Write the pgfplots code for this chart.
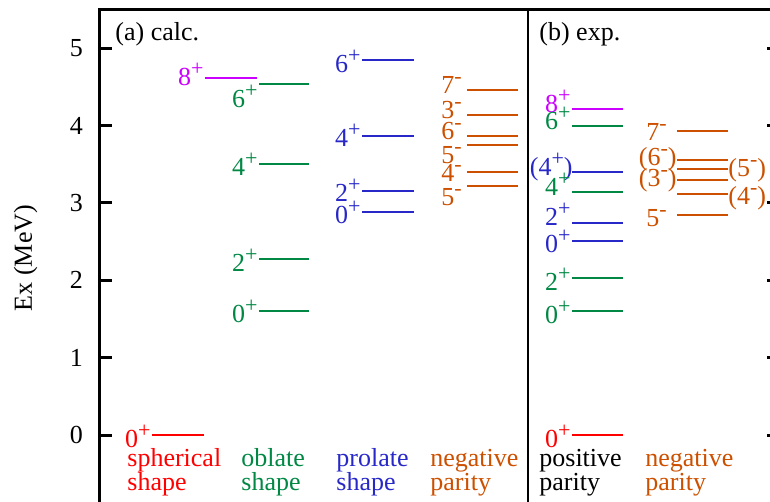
\documentclass[border=0pt]{standalone}
\usepackage{fontspec}
\setmainfont{Liberation Serif}
\usepackage{pgfplots}
\pgfplotsset{compat=1.18}

\definecolor{cred}{RGB}{255,0,0}
\definecolor{cmag}{RGB}{204,0,255}
\definecolor{cgreen}{RGB}{0,136,68}
\definecolor{cblue}{RGB}{40,40,200}
\definecolor{corange}{RGB}{204,80,0}

% one level: colour, x from, x to, energy (MeV)
\newcommand{\lvl}[4]{\addplot[#1, line width=1pt, forget plot] coordinates {(#2,#4) (#3,#4)};}
% its label: colour, anchor, x, energy, drop of the baseline (px), text
\newcommand{\lab}[6]{\node[#1, anchor=#2, inner sep=0pt, yshift=-#5*0.5pt] at (axis cs:#3,#4) {#6};}
\newcommand{\spin}[1]{\raisebox{5pt}{\fontsize{11}{11}\selectfont #1}}
\newcommand{\p}[1]{#1\spin{+}}
\newcommand{\m}[1]{#1\spin{-}}

\begin{document}
\fontsize{13}{12}\selectfont
\begin{tikzpicture}
\begin{axis}[
    scale only axis, x=0.5pt, y=38.675pt,
    xmin=100, xmax=779, ymin=-1, ymax=5.5,
    axis line style={line width=1.5pt},
    xtick=\empty,
    ytick={0,1,2,3,4,5},
    major tick length=6pt,
    every tick/.style={black, line width=1.5pt},
    yticklabel style={xshift=-4pt},
    /pgf/number format/assume math mode=true,
    clip=false,
  ]
  \coordinate (bl) at (axis cs:0,-0.866);
  \coordinate (tr) at (axis cs:770,5.624);

  % panel divider
  \addplot[black, line width=1pt, forget plot] coordinates {(528,-1) (528,5.5)};

  % (a) calc.: spherical
  \lvl{cred}{152}{204}{0}
  \lab{cred}{base east}{151}{0}{12}{\p0}
  \lvl{cmag}{205}{257}{4.615}
  \lab{cmag}{base east}{204}{4.615}{7}{\p8}
  % oblate
  \lvl{cgreen}{259}{309}{4.538}
  \lvl{cgreen}{259}{309}{3.504}
  \lvl{cgreen}{259}{309}{2.275}
  \lvl{cgreen}{259}{309}{1.603}
  \lab{cgreen}{base east}{258}{4.538}{24}{\p6}
  \lab{cgreen}{base east}{258}{3.504}{12}{\p4}
  \lab{cgreen}{base east}{258}{2.275}{12}{\p2}
  \lab{cgreen}{base east}{258}{1.603}{11}{\p0}
  % prolate
  \lvl{cblue}{362}{414}{4.848}
  \lvl{cblue}{362}{414}{3.870}
  \lvl{cblue}{362}{414}{3.155}
  \lvl{cblue}{362}{414}{2.879}
  \lab{cblue}{base east}{361}{4.848}{12}{\p6}
  \lab{cblue}{base east}{361}{3.870}{11}{\p4}
  \lab{cblue}{base east}{361}{3.155}{11}{\p2}
  \lab{cblue}{base east}{361}{2.879}{11}{\p0}
  % negative parity
  \lvl{corange}{467}{518}{4.460}
  \lvl{corange}{467}{518}{4.137}
  \lvl{corange}{467}{518}{3.866}
  \lvl{corange}{467}{518}{3.749}
  \lvl{corange}{467}{518}{3.404}
  \lvl{corange}{467}{518}{3.219}
  \lab{corange}{base east}{462}{4.460}{3}{\m7}
  \lab{corange}{base east}{462}{4.137}{3}{\m3}
  \lab{corange}{base east}{462}{3.866}{4}{\m6}
  \lab{corange}{base east}{462}{3.749}{18}{\m5}
  \lab{corange}{base east}{462}{3.404}{10}{\m4}
  \lab{corange}{base east}{462}{3.219}{19}{\m5}

  % (b) exp.: positive parity
  \lvl{cmag}{572}{623}{4.215}
  \lvl{cgreen}{572}{623}{3.999}
  \lvl{cblue}{572}{623}{3.404}
  \lvl{cgreen}{572}{623}{3.145}
  \lvl{cblue}{572}{623}{2.745}
  \lvl{cblue}{572}{623}{2.512}
  \lvl{cgreen}{572}{623}{2.026}
  \lvl{cgreen}{572}{623}{1.603}
  \lvl{cred}{572}{623}{0}
  \lab{cmag}{base east}{571}{4.215}{4}{\p8}
  \lab{cgreen}{base east}{571}{3.999}{4}{\p6}
  \lab{cblue}{base east}{573}{3.404}{4}{(\p4)}
  \lab{cgreen}{base east}{571}{3.145}{4}{\p4}
  \lab{cblue}{base east}{571}{2.745}{3}{\p2}
  \lab{cblue}{base east}{571}{2.512}{12}{\p0}
  \lab{cgreen}{base east}{571}{2.026}{12}{\p2}
  \lab{cgreen}{base east}{571}{1.603}{12}{\p0}
  \lab{cred}{base east}{571}{0}{12}{\p0}
  % negative parity
  \lvl{corange}{677}{728}{3.934}
  \lvl{corange}{677}{728}{3.555}
  \lvl{corange}{677}{728}{3.439}
  \lvl{corange}{677}{728}{3.297}
  \lvl{corange}{677}{728}{3.116}
  \lvl{corange}{677}{728}{2.844}
  \lab{corange}{base east}{667}{3.934}{10}{\m7}
  \lab{corange}{base east}{677}{3.555}{5}{(\m6)}
  \lab{corange}{base west}{728}{3.439}{8}{(\m5)}
  \lab{corange}{base east}{677}{3.297}{7}{(\m3)}
  \lab{corange}{base west}{728}{3.116}{11}{(\m4)}
  \lab{corange}{base east}{667}{2.844}{11}{\m5}

  % panel titles
  \node[anchor=base west, inner sep=0pt] at (axis cs:115,5.094) {(a) calc.};
  \node[anchor=base west, inner sep=0pt] at (axis cs:539,5.094) {(b) exp.};

  % column names
  \node[cred, anchor=base west, inner sep=0pt] at (axis cs:127,-0.401) {spherical};
  \node[cred, anchor=base west, inner sep=0pt] at (axis cs:127,-0.711) {shape};
  \node[cgreen, anchor=base west, inner sep=0pt] at (axis cs:241,-0.401) {oblate};
  \node[cgreen, anchor=base west, inner sep=0pt] at (axis cs:241,-0.711) {shape};
  \node[cblue, anchor=base west, inner sep=0pt] at (axis cs:336,-0.401) {prolate};
  \node[cblue, anchor=base west, inner sep=0pt] at (axis cs:336,-0.711) {shape};
  \node[corange, anchor=base west, inner sep=0pt] at (axis cs:430,-0.401) {negative};
  \node[corange, anchor=base west, inner sep=0pt] at (axis cs:430,-0.711) {parity};
  \node[black, anchor=base west, inner sep=0pt] at (axis cs:539,-0.401) {positive};
  \node[black, anchor=base west, inner sep=0pt] at (axis cs:539,-0.711) {parity};
  \node[corange, anchor=base west, inner sep=0pt] at (axis cs:645,-0.401) {negative};
  \node[corange, anchor=base west, inner sep=0pt] at (axis cs:645,-0.711) {parity};

  % axis title
  \node[rotate=90, anchor=base, inner sep=0pt] at (axis cs:32,2.288) {Ex (MeV)};
\end{axis}
\pgfresetboundingbox
\path[use as bounding box] (bl) rectangle (tr);
\end{tikzpicture}
\end{document}
